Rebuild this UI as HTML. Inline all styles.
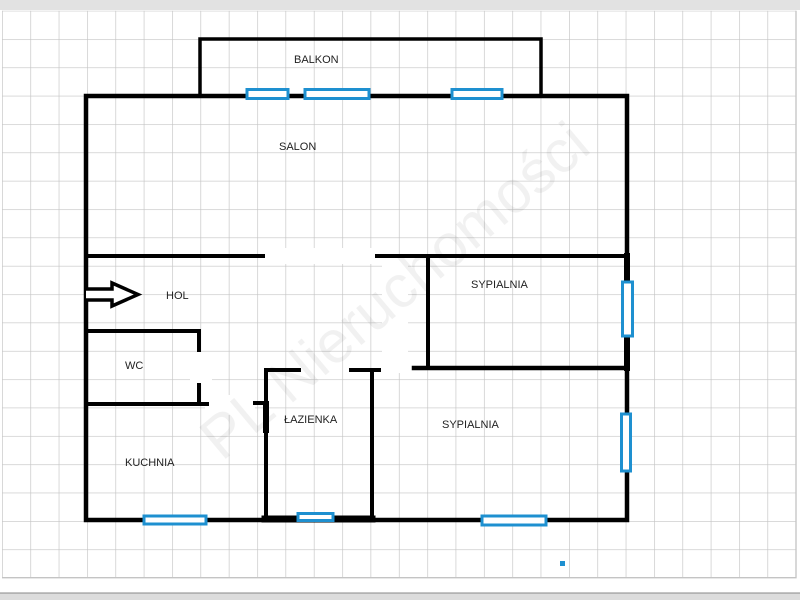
<!DOCTYPE html>
<html><head><meta charset="utf-8"><style>
html,body{margin:0;padding:0;width:800px;height:600px;overflow:hidden;background:#fff}
svg{display:block}
text{font-family:"Liberation Sans",sans-serif;font-size:11px;fill:#222}
</style></head><body>
<svg width="800" height="600" viewBox="0 0 800 600" xmlns="http://www.w3.org/2000/svg">
<defs>
<pattern id="g" x="2" y="10.7" width="28.35" height="28.35" patternUnits="userSpaceOnUse">
<path d="M0 0H28.35M0 0V28.35" stroke="#c4c4c4" stroke-width="1.3" fill="none"/>
</pattern>
</defs>
<rect x="0" y="0" width="800" height="10" fill="#e2e2e2"/>
<rect x="0" y="593" width="800" height="7" fill="#dcdcdc"/>
<line x1="0" y1="593" x2="800" y2="593" stroke="#888" stroke-width="1"/>
<rect x="2" y="10.7" width="794" height="567" fill="url(#g)"/>
<path d="M2 577.7H796V10.7" stroke="#c4c4c4" stroke-width="1.3" fill="none"/>
<g fill="#fff">
<rect x="266" y="248" width="108" height="16"/>
<rect x="382" y="258" width="26" height="115"/>
<rect x="190" y="352" width="22" height="32"/>
<rect x="205" y="395" width="50" height="20"/>
</g>
<text x="0" y="0" transform="translate(222,462) rotate(-40)" style="font-size:60px;fill:#000;opacity:0.05">PL Nieruchomości</text>
<g stroke="#000" fill="none" stroke-linecap="square">
<path d="M200 96V39H541V96" stroke-width="3.5"/>
<path d="M86 96H627V520H86Z" stroke-width="4.5"/>
<path d="M627 256V368" stroke-width="6"/>
<path d="M265 519H372" stroke-width="7"/>
<path d="M86 256H263" stroke-width="4"/>
<path d="M377 256H627" stroke-width="4"/>
<path d="M428 256V368" stroke-width="4"/>
<path d="M414 368H627" stroke-width="4.5"/>
<path d="M86 331H199V350" stroke-width="4"/>
<path d="M199 385V404H86" stroke-width="4"/>
<path d="M199 404H207" stroke-width="4"/>
<path d="M266 520V370H299" stroke-width="4"/>
<path d="M351 370H379" stroke-width="4"/>
<path d="M372 370V520" stroke-width="4"/>
<path d="M255 403H266" stroke-width="4"/>
<path d="M266 404V430" stroke-width="6"/>
</g>
<path d="M86 289H112V283L138 294.5L112 306V300H86" fill="#fff" stroke="#000" stroke-width="3.5" stroke-linejoin="miter"/>
<g fill="#fff" stroke="#1e90d0" stroke-width="3">
<rect x="247" y="89.5" width="41" height="9"/>
<rect x="305" y="89.5" width="64" height="9"/>
<rect x="452" y="89.5" width="50" height="9"/>
<rect x="144" y="516" width="62" height="8"/>
<rect x="298" y="513.5" width="35" height="7"/>
<rect x="482" y="516" width="64" height="9"/>
<rect x="622.5" y="282" width="10" height="54"/>
<rect x="621.5" y="414" width="9" height="57"/>
</g>
<rect x="560" y="561" width="5" height="5" fill="#1e90d0"/>
<text x="294" y="63">BALKON</text>
<text x="279" y="150">SALON</text>
<text x="166" y="299">HOL</text>
<text x="471" y="288">SYPIALNIA</text>
<text x="125" y="369">WC</text>
<text x="284" y="423">ŁAZIENKA</text>
<text x="442" y="428">SYPIALNIA</text>
<text x="125" y="466">KUCHNIA</text>
</svg>
</body></html>
